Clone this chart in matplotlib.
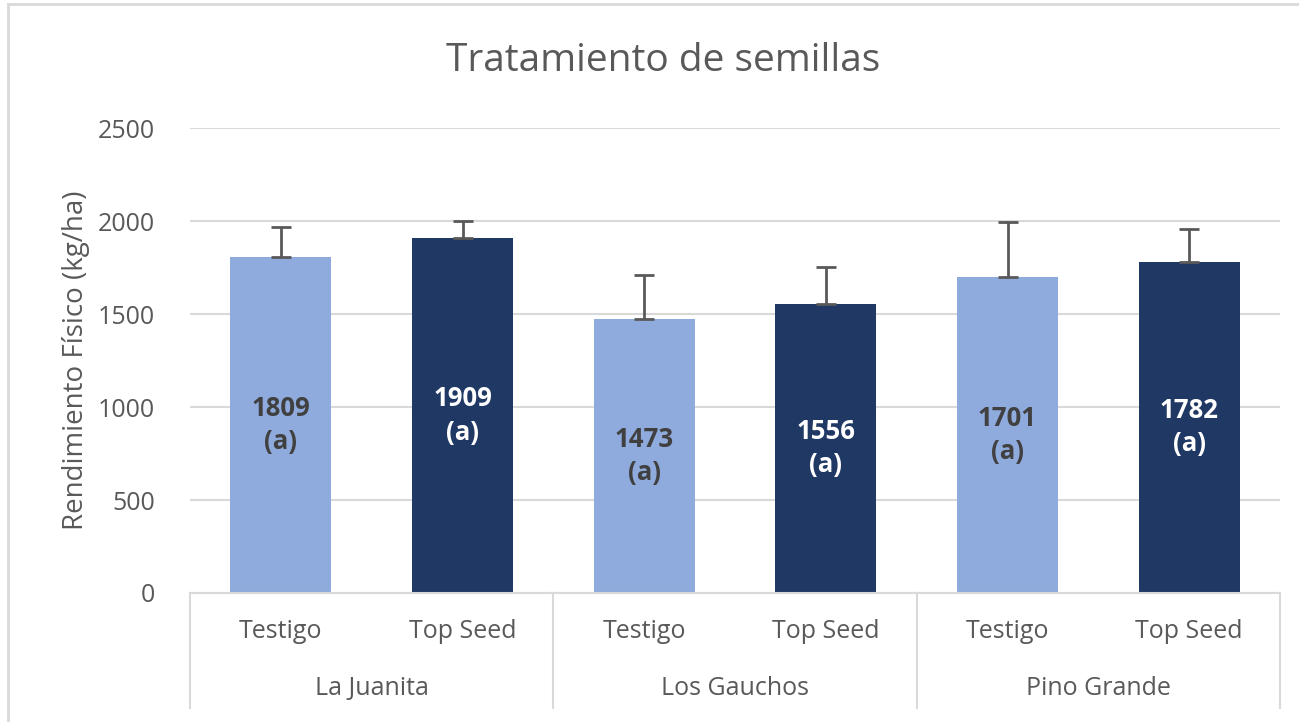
import matplotlib.pyplot as plt
from matplotlib.lines import Line2D

# data
groups = ["La Juanita", "Los Gauchos", "Pino Grande"]
treatments = ["Testigo", "Top Seed"]
means = [1809, 1909, 1473, 1556, 1701, 1782]
err_up = [160, 92, 237, 197, 293, 175]
letters = ["(a)", "(a)", "(a)", "(a)", "(a)", "(a)"]

light = "#8FAADC"
dark = "#203864"
gray_txt = "#595959"
grid_col = "#D9D9D9"

plt.rcParams['font.family'] = ['Open Sans', 'DejaVu Sans']

W, H = 1299, 722
fig = plt.figure(figsize=(W / 100, H / 100), dpi=100)

# plot area in pixels
x0, x1 = 190, 1280
y_top, y_bot = 128, 593
ax = fig.add_axes([x0 / W, 1 - y_bot / H, (x1 - x0) / W, (y_bot - y_top) / H])

n = len(means)
xs = list(range(n))
colors = [light if i % 2 == 0 else dark for i in xs]

ax.bar(xs, means, width=0.555, color=colors, zorder=2)
ax.errorbar(xs, means, yerr=[[0] * n, err_up], fmt='none', ecolor="#595959",
            elinewidth=2, capsize=7, capthick=2, zorder=3)

for i, (m, l) in enumerate(zip(means, letters)):
    tc = "#404040" if i % 2 == 0 else "white"
    ax.text(i, m / 2, f"{m}\n{l}", ha="center", va="center", color=tc,
            fontsize=18.5, fontweight="bold", linespacing=1.3, zorder=4)

ax.set_xlim(-0.5, n - 0.5)
ax.set_ylim(0, 2500)
ax.set_yticks([0, 500, 1000, 1500, 2000, 2500])
ax.yaxis.grid(True, color=grid_col, linewidth=1.5, zorder=0)
ax.set_axisbelow(True)
ax.tick_params(axis='y', length=0, pad=25, labelsize=18, labelcolor=gray_txt)
ax.set_xticks([])
for s in ["top", "right", "left"]:
    ax.spines[s].set_visible(False)
ax.spines["bottom"].set_color(grid_col)
ax.spines["bottom"].set_linewidth(1.5)

ax.set_ylabel("Rendimiento Físico (kg/ha)", fontsize=20, color=gray_txt, labelpad=6)

# hierarchical category axis
for i in xs:
    ax.text(i, -0.082, treatments[i % 2], transform=ax.get_xaxis_transform(),
            ha="center", va="center", fontsize=18, color=gray_txt)
for g, name in enumerate(groups):
    ax.text(2 * g + 0.5, -0.206, name, transform=ax.get_xaxis_transform(),
            ha="center", va="center", fontsize=18, color=gray_txt)
for b in [-0.5, 1.5, 3.5, 5.5]:
    ax.add_line(Line2D([b, b], [0, -0.247], transform=ax.get_xaxis_transform(),
                       color=grid_col, linewidth=1.5, clip_on=False))

fig.text(663 / W, 1 - 61 / H, "Tratamiento de semillas", ha="center", va="center",
         fontsize=28, color=gray_txt)

# outer chart border
fig.add_artist(Line2D([8 / W, 8 / W], [0, 1 - 4 / H], color=grid_col, linewidth=2))
fig.add_artist(Line2D([8 / W, 1], [1 - 4 / H, 1 - 4 / H], color=grid_col, linewidth=2))

fig.savefig("out.png", dpi=100, facecolor="white")
